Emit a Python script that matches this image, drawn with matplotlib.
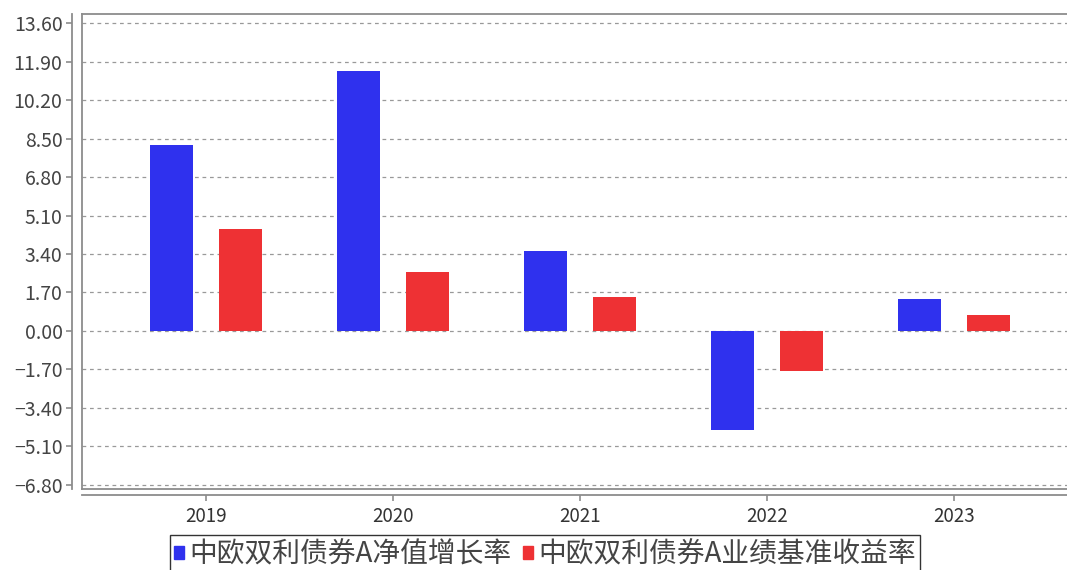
import numpy as np
import matplotlib
matplotlib.use('Agg')
import matplotlib.pyplot as plt
from matplotlib.lines import Line2D

plt.rcParams['font.family'] = ['Noto Sans CJK SC', 'DejaVu Sans']
plt.rcParams['axes.unicode_minus'] = True

# 数据
years = ['2019', '2020', '2021', '2022', '2023']
jingzhi = [8.21, 11.48, 3.53, -4.37, 1.41]     # 净值增长率
jizhun = [4.50, 2.60, 1.50, -1.77, 0.71]       # 业绩基准收益率
yticks = [13.60, 11.90, 10.20, 8.50, 6.80, 5.10, 3.40, 1.70, 0.00,
          -1.70, -3.40, -5.10, -6.80]
names = ['中欧双利债券A净值增长率', '中欧双利债券A业绩基准收益率']

W, H = 1067, 570
fig = plt.figure(figsize=(W / 100, H / 100), dpi=100)
ax = fig.add_axes([82 / W, 1 - 489 / H, 1 - 82 / W + 0.01, (489 - 14) / H])

x = np.arange(len(years))
blue = '#2f31ee'
red = '#ee3134'
ax.bar(x - 0.185, jingzhi, width=0.23, color=blue, zorder=3)
ax.bar(x + 0.185, jizhun, width=0.23, color=red, zorder=3)

ax.set_xlim(-0.663, 4.66)
ax.set_ylim(-6.98, 14.0)
ax.set_yticks(yticks)
ax.set_yticklabels([f'{v:.2f}'.replace('-', '\u2212') for v in yticks])
ax.set_xticks(x)
ax.set_xticklabels(years)
ax.grid(axis='y', linestyle=(0, (3, 3)), color='#999999', linewidth=0.9, zorder=1)

grey = '#8c8c8c'
for s in ['top', 'bottom', 'left']:
    ax.spines[s].set_color(grey)
    ax.spines[s].set_linewidth(1.3)
ax.spines['right'].set_visible(False)
ax.spines['left'].set_position(('outward', 7))
ax.spines['bottom'].set_position(('outward', 4))

# 绘图区左边框和底部双线
ax.add_line(Line2D([0, 0], [0, 1], transform=ax.transAxes, color=grey,
                   linewidth=1.3, clip_on=False))
ax.add_line(Line2D([0, 1], [0, 0], transform=ax.transAxes, color=grey,
                   linewidth=1.3, clip_on=False))

ax.tick_params(axis='y', direction='out', length=4, width=1.2, color=grey,
               labelsize=14, labelcolor='#444444', pad=3)
ax.tick_params(axis='x', direction='out', length=4, width=1.2, color=grey,
               labelsize=13.5, labelcolor='#333333', pad=4)

handles = [plt.Rectangle((0, 0), 1, 1, color=blue),
           plt.Rectangle((0, 0), 1, 1, color=red)]
leg = fig.legend(handles, names, loc='upper center',
                 bbox_to_anchor=(545 / W, 1 - 535 / H), ncol=2,
                 fontsize=20, frameon=True, fancybox=False,
                 handlelength=0.36, handleheight=0.36, handletextpad=0.2,
                 columnspacing=0.4, borderpad=0.15, borderaxespad=0,
                 labelcolor='#444444')
leg.get_frame().set_edgecolor('black')
leg.get_frame().set_linewidth(1.0)

fig.savefig('out.png', dpi=100)
